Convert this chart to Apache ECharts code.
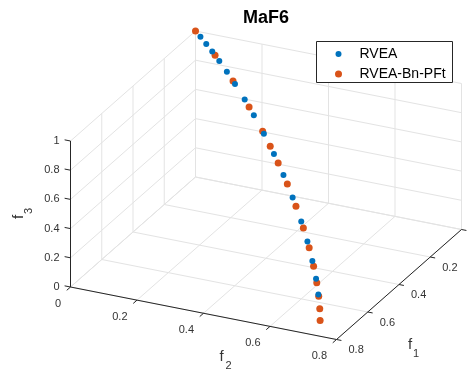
<!DOCTYPE html>
<html><head><meta charset="utf-8">
<script src="https://cdn.jsdelivr.net/npm/echarts@6/dist/echarts.min.js"></script>
<style>html,body{margin:0;padding:0;background:#fff}#c{width:473px;height:376px}</style>
</head><body><div id="c"></div>
<script>
// ---------- data ----------
const chartTitle = 'MaF6';
const seriesNames = ['RVEA', 'RVEA-Bn-PFt'];
const seriesColors = ['#0072BD', '#D95319'];
const f1Lim = [0, 0.8];
const f2Lim = [0, 0.8];
const f3Lim = [0, 1];
const f1Ticks = [0, 0.2, 0.4, 0.6, 0.8];
const f2Ticks = [0, 0.2, 0.4, 0.6, 0.8];
const f3Ticks = [0, 0.2, 0.4, 0.6, 0.8, 1];
const f1TickLabels = ['0', '0.2', '0.4', '0.6', '0.8'];
const f2TickLabels = ['0', '0.2', '0.4', '0.6', '0.8'];
const f3TickLabels = ['0', '0.2', '0.4', '0.6', '0.8', '1'];

const rveaF1 = [0.028, 0.061, 0.095, 0.135, 0.178, 0.224, 0.279, 0.331, 0.388, 0.445, 0.499, 0.551, 0.600, 0.635, 0.663, 0.684, 0.697];
const rveaF2 = [0.028, 0.061, 0.095, 0.135, 0.178, 0.224, 0.279, 0.331, 0.388, 0.445, 0.499, 0.551, 0.600, 0.635, 0.663, 0.684, 0.697];
const rveaF3 = [0.999, 0.996, 0.991, 0.982, 0.968, 0.948, 0.919, 0.884, 0.836, 0.777, 0.708, 0.627, 0.530, 0.442, 0.347, 0.255, 0.165];

const bnF1 = [0.000, 0.111, 0.213, 0.304, 0.381, 0.424, 0.469, 0.521, 0.570, 0.612, 0.645, 0.670, 0.688, 0.699, 0.705, 0.707];
const bnF2 = [0.000, 0.111, 0.213, 0.304, 0.381, 0.424, 0.469, 0.521, 0.570, 0.612, 0.645, 0.670, 0.688, 0.699, 0.705, 0.707];
const bnF3 = [1.000, 0.988, 0.954, 0.903, 0.843, 0.801, 0.748, 0.677, 0.592, 0.502, 0.412, 0.321, 0.233, 0.155, 0.078, 0.000];

// ---------- 3D view (orthographic projection onto the page plane) ----------
const FONT = '"Liberation Sans", Arial, Helvetica, sans-serif';
const AX = '#262626', GRIDC = '#e3e3e3', TXT = '#333333';
const VIEW = {
  origin: [70.5, 287],   // f1 = max, f2 = min, f3 = min corner
  f2Dir: [266, 52.5],    // full f2 range
  f1Dir: [125, -110],    // full f1 range (towards decreasing f1)
  f3Dir: [0, -146]       // full f3 range
};
function P(f1, f2, f3) {
  const s = (f2 - f2Lim[0]) / (f2Lim[1] - f2Lim[0]);
  const r = (f1Lim[1] - f1) / (f1Lim[1] - f1Lim[0]);
  const h = (f3 - f3Lim[0]) / (f3Lim[1] - f3Lim[0]);
  return [VIEW.origin[0] + s * VIEW.f2Dir[0] + r * VIEW.f1Dir[0] + h * VIEW.f3Dir[0],
          VIEW.origin[1] + s * VIEW.f2Dir[1] + r * VIEW.f1Dir[1] + h * VIEW.f3Dir[1]];
}
function proj(a1, a2, a3) { return a1.map((v, i) => P(v, a2[i], a3[i])); }
function unit(v, len) { const n = Math.hypot(v[0], v[1]); return [v[0] / n * len, v[1] / n * len]; }
function textEl(x, y, t, align, va, font, fill) {
  return { type: 'text', x: x, y: y, style: { text: t, fill: fill || TXT, font: font, align: align, verticalAlign: va, textAlign: align, textVerticalAlign: va } };
}

function renderFrame(params, api) {
  const c = (f1, f2, f3) => api.coord(P(f1, f2, f3));
  const ch = [];
  const seg = (a, b, col) => ch.push({ type: 'line', shape: { x1: a[0], y1: a[1], x2: b[0], y2: b[1] }, style: { stroke: col, lineWidth: 1 } });
  const tick = '11px ' + FONT;
  const f1a = f1Lim[0], f1b = f1Lim[1], f2a = f2Lim[0], f2b = f2Lim[1], f3a = f3Lim[0], f3b = f3Lim[1];
  // floor grid
  f2Ticks.forEach(t => seg(c(f1b, t, f3a), c(f1a, t, f3a), GRIDC));
  f1Ticks.forEach(t => seg(c(t, f2a, f3a), c(t, f2b, f3a), GRIDC));
  // back wall (f1 = min)
  f2Ticks.forEach(t => seg(c(f1a, t, f3a), c(f1a, t, f3b), GRIDC));
  f3Ticks.forEach(t => seg(c(f1a, f2a, t), c(f1a, f2b, t), GRIDC));
  // left wall (f2 = min)
  f1Ticks.forEach(t => seg(c(t, f2a, f3a), c(t, f2a, f3b), GRIDC));
  f3Ticks.forEach(t => seg(c(f1b, f2a, t), c(f1a, f2a, t), GRIDC));
  // axis lines
  seg(c(f1b, f2a, f3a), c(f1b, f2b, f3a), AX); // f2
  seg(c(f1b, f2b, f3a), c(f1a, f2b, f3a), AX); // f1
  seg(c(f1b, f2a, f3a), c(f1b, f2a, f3b), AX); // f3
  // tick directions
  const o = c(f1b, f2a, f3a);
  const d2 = c(f1b, f2b, f3a), d1 = c(f1a, f2a, f3a);
  const dirF2 = unit([d2[0] - o[0], d2[1] - o[1]], 5);
  const dirF1toward = unit([o[0] - d1[0], o[1] - d1[1]], 5);
  const dirZ = unit([o[0] - d2[0], o[1] - d2[1]], 6);
  f3Ticks.forEach((t, i) => {
    const p = c(f1b, f2a, t);
    seg(p, [p[0] + dirZ[0], p[1] + dirZ[1]], AX);
    ch.push(textEl(p[0] - 11, p[1], f3TickLabels[i], 'right', 'middle', tick));
  });
  f2Ticks.forEach((t, i) => {
    const p = c(f1b, t, f3a);
    seg(p, [p[0] + dirF1toward[0], p[1] + dirF1toward[1]], AX);
    ch.push(textEl(p[0] - 9.5, p[1] + 16.5, f2TickLabels[i], 'right', 'middle', tick));
  });
  f1Ticks.forEach((t, i) => {
    const p = c(t, f2b, f3a);
    seg(p, [p[0] + dirF2[0], p[1] + dirF2[1]], AX);
    ch.push(textEl(p[0] + 12, p[1] + 10.5, f1TickLabels[i], 'left', 'middle', tick));
  });
  // axis titles
  const big = '15px ' + FONT, sub = '11px ' + FONT;
  const m2 = c(f1b, (f2a + f2b) / 2, f3a);
  ch.push(textEl(m2[0] + 18, m2[1] + 44, 'f', 'center', 'middle', big));
  ch.push(textEl(m2[0] + 25, m2[1] + 53, '2', 'center', 'middle', sub));
  const m1 = c((f1a + f1b) / 2, f2b, f3a);
  ch.push(textEl(m1[0] + 11, m1[1] + 60, 'f', 'center', 'middle', big));
  ch.push(textEl(m1[0] + 17, m1[1] + 69, '1', 'center', 'middle', sub));
  const m3 = c(f1b, f2a, (f3a + f3b) / 2);
  ch.push({ type: 'group', x: m3[0] - 52, y: m3[1] + 3, rotation: Math.PI / 2, children: [
    textEl(0, 0, 'f', 'center', 'middle', big),
    textEl(6, 10, '3', 'center', 'middle', sub)
  ] });
  return { type: 'group', children: ch };
}

// legend box (MATLAB style), drawn in page pixels
const LEG = { x: 316.5, y: 41.5, w: 136, h: 41, markerX: 22, textX: 43, rows: [12.5, 32.5], sizes: [6, 7] };
function renderLegend(params, api) {
  const ch = [{ type: 'rect', shape: { x: LEG.x, y: LEG.y, width: LEG.w, height: LEG.h },
                style: { fill: '#fff', stroke: AX, lineWidth: 1 } }];
  seriesNames.forEach((n, i) => {
    const cy = LEG.y + LEG.rows[i];
    ch.push({ type: 'circle', shape: { cx: LEG.x + LEG.markerX, cy: cy, r: LEG.sizes[i] / 2 }, style: { fill: seriesColors[i] } });
    ch.push(textEl(LEG.x + LEG.textX, cy, n, 'left', 'middle', '14px ' + FONT, '#000'));
  });
  return { type: 'group', children: ch };
}

const chart = echarts.init(document.getElementById('c'), null, { renderer: 'canvas' });
chart.setOption({
  animation: false,
  backgroundColor: '#fff',
  title: { text: chartTitle, left: 266, top: 9, textAlign: 'center', padding: 0,
           textStyle: { fontSize: 18, fontWeight: 'bold', color: '#000', fontFamily: FONT } },
  grid: { left: 0, top: 0, right: 0, bottom: 0 },
  xAxis: { type: 'value', min: 0, max: 473, show: false },
  yAxis: { type: 'value', min: 0, max: 376, inverse: true, show: false },
  series: [
    { type: 'custom', name: 'frame', renderItem: renderFrame, data: [[0, 0]], silent: true, z: 1, clip: false },
    { type: 'scatter', name: seriesNames[1], data: proj(bnF1, bnF2, bnF3), symbol: 'circle', symbolSize: 7,
      itemStyle: { color: seriesColors[1], opacity: 1 }, z: 3 },
    { type: 'scatter', name: seriesNames[0], data: proj(rveaF1, rveaF2, rveaF3), symbol: 'circle', symbolSize: 6,
      itemStyle: { color: seriesColors[0], opacity: 1 }, z: 4 },
    { type: 'custom', name: 'legend', renderItem: renderLegend, data: [[0, 0]], silent: true, z: 10, clip: false }
  ]
});
</script></body></html>
